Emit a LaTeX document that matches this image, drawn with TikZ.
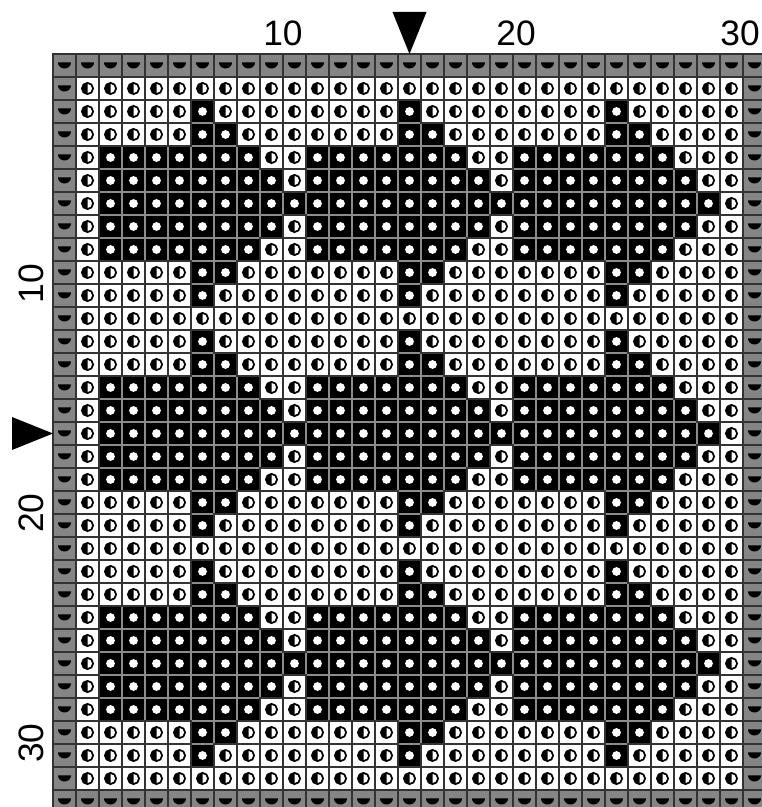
\documentclass[tikz,border=0pt]{standalone}
\usepackage{fontspec}
\newfontfamily\labfont{Liberation Sans}
\definecolor{bordergray}{gray}{0.52}
\definecolor{griddark}{gray}{0.2}
\definecolor{blkline}{gray}{0.55}
\newcommand\cellkind[2]{%
  \pgfmathtruncatemacro{\myp}{mod(#1+9,10)}%
  \pgfmathtruncatemacro{\mya}{mod(#2+7,9)}%
  \pgfmathtruncatemacro{\myb}{((\myp==1)||(\myp==9))*(\mya==4) + ((\myp==2)||(\myp==8))*((\mya==4)||(\mya==5)) + ((\myp==3)||(\myp==7))*(\mya<=6) + ((\myp==4)||(\myp==6))*(\mya<=7) + (\myp==5)*(\mya<=8)}%
  \ifnum#1=0 \def\kind{0}\else\ifnum#1=32 \def\kind{0}\else\ifnum#2=0 \def\kind{0}\else\ifnum#2=30 \def\kind{0}\else
   \ifnum#2=1 \def\kind{1}\else\ifnum#2=29 \def\kind{1}\else
   \ifnum\myb>0 \def\kind{2}\else\def\kind{1}\fi\fi\fi\fi\fi\fi\fi}
\begin{document}
\begin{tikzpicture}[x=0.75pt,y=0.75pt,
  lbl/.style={font=\labfont\fontsize{26.5}{30}\selectfont, inner sep=0pt},
  blkedge/.style={draw=blkline, line width=1pt},
  darkedge/.style={draw=griddark, line width=1pt},
  marker/.style={fill=black}]
\useasboundingbox (0,0) rectangle (762,807);
\begin{scope}
\clip (0,0) rectangle (762,807);
\fill[white] (0,0) rectangle (762,807);
% pass 1: fills and symbols
\foreach \r in {0,...,32}{\foreach \c in {0,...,30}{
  \cellkind{\r}{\c}%
  \pgfmathsetmacro{\xl}{53+23*\c}%
  \pgfmathsetmacro{\yt}{753-23*\r}%
  \pgfmathsetmacro{\cx}{\xl+11.5}%
  \pgfmathsetmacro{\cy}{\yt-11.5}%
  \ifcase\kind\relax
    \fill[bordergray] (\xl,\yt) rectangle ++(23,-23);
    \fill[marker] (\xl+5,\yt-8.5) arc[start angle=180,end angle=360,x radius=6.5,y radius=6] -- cycle;
  \or
    \fill[white] (\xl,\yt) rectangle ++(23,-23);
    \fill[marker] (\cx,\cy+5.6) arc[start angle=90,end angle=270,radius=5.6] -- cycle;
    \draw[black,line width=1.3pt] (\cx,\cy) circle[radius=5.6];
  \or
    \fill[black] (\xl,\yt) rectangle ++(23,-23);
    \fill[white] (\cx,\cy) circle[radius=4.4];
  \fi
}}
% pass 2: edges of dark cells
\foreach \r in {1,...,31}{\foreach \c in {2,...,28}{
  \cellkind{\r}{\c}%
  \pgfmathsetmacro{\xl}{53+23*\c}%
  \pgfmathsetmacro{\yt}{753-23*\r}%
  \ifnum\kind=2 \draw[blkedge] (\xl,\yt) rectangle ++(23,-23);\fi
}}
% pass 3: edges of light and border cells
\foreach \r in {0,...,32}{\foreach \c in {0,...,30}{
  \cellkind{\r}{\c}%
  \pgfmathsetmacro{\xl}{53+23*\c}%
  \pgfmathsetmacro{\yt}{753-23*\r}%
  \ifnum\kind=2 \else \draw[darkedge] (\xl,\yt) rectangle ++(23,-23);\fi
}}
\end{scope}
% labels
\node[lbl] (c10) at (283,773.5) {10};
\node[lbl] (c20) at (516,773.5) {20};
\node[lbl] (c30) at (740,773.5) {30};
\node[lbl,rotate=90] (r10) at (31,523) {10};
\node[lbl,rotate=90] (r20) at (31,294) {20};
\node[lbl,rotate=90] (r30) at (31,64) {30};
% center markers
\fill[marker] (392.5,795) -- (426.5,795) -- (409.5,753) -- cycle;
\fill[marker] (12,390) -- (12,357) -- (53,373.5) -- cycle;
\end{tikzpicture}
\end{document}
